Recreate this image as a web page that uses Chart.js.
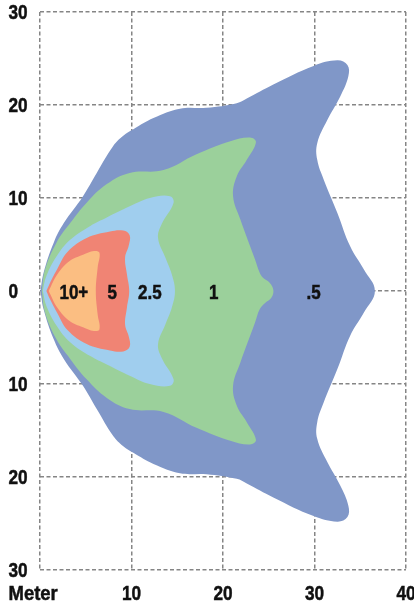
<!DOCTYPE html>
<html>
<head>
<meta charset="utf-8">
<script src="https://cdn.jsdelivr.net/npm/chart.js@4/dist/chart.umd.min.js"></script>
<style>
html,body{margin:0;padding:0;background:#fff;}
#wrap{width:414px;height:608px;position:relative;}
</style>
</head>
<body>
<div id="wrap"><canvas id="c" width="414" height="608"></canvas></div>
<script>
// ---- data (x = metres forward, y = metres sideways) ----
const xTicks = [0, 10, 20, 30, 40];
const xTickLabels = ['', '10', '20', '30', '40'];
const yTicks = [30, 20, 10, 0, -10, -20, -30];
const yTickLabels = ['30', '20', '10', '0', '10', '20', '30'];
const axisName = 'Meter';

const zoneNames = ['10+', '5', '2.5', '1', '.5'];
const zoneLabelX = [3.7, 7.9, 12.0, 19.0, 29.9];
const zoneLabelY = [-0.3, -0.3, -0.3, -0.3, -0.3];
const zoneColors = ['#fbbe82', '#f08474', '#a0ceee', '#9bd09b', '#8097c8'];

// zone ".5"
const blueX = [0.05, 0.4, 1.5, 2.6, 4.7, 6.2, 8.0, 9.1, 10.2, 12.4, 15.3, 18.2, 21.5, 22.6, 25.5, 29.9, 32.5, 33.6, 33.7, 32.8, 31.4, 30.3, 30.3, 31.0, 32.5, 33.9, 35.4, 36.6,
               35.4, 33.9, 32.5, 31.0, 30.3, 30.3, 31.4, 32.8, 33.7, 33.6, 32.5, 29.9, 25.5, 22.6, 21.5, 18.2, 15.3, 12.4, 10.2, 9.1, 8.0, 6.2, 4.7, 2.6, 1.5, 0.4, 0.05];
const blueY = [0, 2.0, 5.2, 7.3, 10.2, 12.7, 15.6, 16.7, 17.4, 18.6, 19.6, 19.7, 20.2, 20.7, 22.2, 24.2, 24.8, 24.3, 23.1, 20.9, 18.4, 15.9, 14.1, 12.0, 8.4, 4.8, 2.3, 0,
               -2.3, -4.8, -8.4, -12.0, -14.1, -15.9, -18.4, -20.9, -23.1, -24.3, -24.8, -24.2, -22.2, -20.7, -20.2, -19.7, -19.6, -18.6, -17.4, -16.7, -15.6, -12.7, -10.2, -7.3, -5.2, -2.0, 0];
// zone "1"
const greenX = [0.2, 0.55, 1.8, 3.3, 5.1, 7.3, 9.8, 13.5, 17.1, 20.8, 22.95, 23.6, 22.6, 21.5, 21.1, 21.9, 23.5, 24.0, 24.4, 25.1, 25.5,
                25.3, 24.6, 24.0, 23.5, 21.9, 21.1, 21.5, 22.6, 23.6, 22.95, 20.8, 17.1, 13.5, 9.8, 7.3, 5.1, 3.3, 1.8, 0.55, 0.2];
const greenY = [0, 2.3, 5.2, 7.3, 9.5, 11.5, 12.7, 13.0, 14.7, 16.1, 16.5, 16.0, 14.1, 12.3, 10.2, 7.7, 3.4, 2.0, 1.4, 0.9, 0.1,
                -0.7, -1.3, -2.0, -3.4, -7.7, -10.2, -12.3, -14.1, -16.0, -16.5, -16.1, -14.7, -13.0, -12.7, -11.5, -9.5, -7.3, -5.2, -2.3, 0];
// zone "2.5"
const lightX = [0.3, 0.7, 1.8, 3.3, 5.5, 7.3, 9.8, 12.0, 14.2, 14.6, 13.3, 12.9, 13.7, 14.4, 14.75,
                14.4, 13.7, 12.9, 13.3, 14.6, 14.2, 12.0, 9.8, 7.3, 5.5, 3.3, 1.8, 0.7, 0.3];
const lightY = [0, 1.6, 3.7, 5.5, 7.0, 7.9, 9.1, 10.0, 10.2, 9.5, 7.2, 5.7, 3.6, 1.8, 0,
                -1.8, -3.6, -5.7, -7.2, -9.5, -10.2, -10.0, -9.1, -7.9, -7.0, -5.5, -3.7, -1.6, 0];
// zone "5"
const redX = [0.7, 1.1, 1.9, 3.0, 5.1, 7.65, 9.1, 9.8, 9.7, 9.3, 9.5, 9.75,
              9.5, 9.3, 9.7, 9.8, 9.1, 7.65, 5.1, 3.0, 1.9, 1.1, 0.7];
const redY = [0, 0.9, 2.4, 4.2, 5.7, 6.4, 6.5, 6.0, 4.9, 3.6, 1.8, 0,
              -1.8, -3.6, -4.9, -6.0, -6.5, -6.4, -5.7, -4.2, -2.4, -0.9, 0];
// zone "10+"
const orangeX = [0.95, 1.9, 3.2, 4.7, 5.9, 6.5, 6.3, 6.1,
                 6.3, 6.5, 5.9, 4.7, 3.2, 1.9, 0.95];
const orangeY = [0, 1.8, 3.2, 3.9, 4.3, 4.1, 2.5, 0,
                 -2.5, -4.1, -4.3, -3.9, -3.2, -1.8, 0];

// ---- build ----
const FONT = "'Liberation Sans', Arial, sans-serif";
function pts(xs, ys) { return xs.map((x, i) => ({x: x, y: ys[i]})); }
const shapes = [
  pts(orangeX, orangeY),
  pts(redX, redY),
  pts(lightX, lightY),
  pts(greenX, greenY),
  pts(blueX, blueY)
];

// bold text squeezed horizontally, lightly stroked, to mimic a heavy narrow face
function narrowText(ctx, text, x, y, align, squeeze) {
  ctx.save();
  ctx.translate(x, y);
  ctx.scale(squeeze, 1);
  ctx.textAlign = align;
  ctx.fillText(text, 0, 0);
  ctx.strokeText(text, 0, 0);
  ctx.restore();
}

const textPlugin = {
  id: 'textPlugin',
  afterDatasetsDraw(chart) {
    const ctx = chart.ctx, xs = chart.scales.x, ys = chart.scales.y;
    ctx.save();
    ctx.font = 'bold 20px ' + FONT;
    ctx.fillStyle = '#111';
    ctx.strokeStyle = '#111';
    ctx.lineWidth = 0.5;
    ctx.textBaseline = 'middle';
    zoneNames.forEach((n, i) => {
      narrowText(ctx, n, xs.getPixelForValue(zoneLabelX[i]), ys.getPixelForValue(zoneLabelY[i]), 'center', 0.85);
    });
    ctx.restore();
  },
  afterDraw(chart) {
    const ctx = chart.ctx, xs = chart.scales.x, ys = chart.scales.y;
    ctx.save();
    ctx.font = 'bold 21px ' + FONT;
    ctx.fillStyle = '#111';
    ctx.strokeStyle = '#111';
    ctx.lineWidth = 0.5;
    ctx.textBaseline = 'middle';
    const labelY = xs.top + 24;
    xTicks.forEach((v, i) => {
      if (xTickLabels[i]) narrowText(ctx, xTickLabels[i], xs.getPixelForValue(v), labelY, 'center', 0.82);
    });
    yTicks.forEach((v, i) => {
      narrowText(ctx, yTickLabels[i], 8.5, ys.getPixelForValue(v) + 1, 'left', 0.82);
    });
    narrowText(ctx, axisName, 8.5, labelY, 'left', 0.88);
    ctx.restore();
  }
};

new Chart(document.getElementById('c'), {
  type: 'scatter',
  data: {
    datasets: shapes.map((d, i) => ({
      label: zoneNames[i],
      data: d,
      showLine: true,
      fill: 'shape',
      backgroundColor: zoneColors[i],
      borderColor: zoneColors[i],
      borderWidth: 0,
      pointRadius: 0,
      tension: 0.4
    }))
  },
  options: {
    responsive: false,
    animation: false,
    layout: {padding: {left: 8, right: 8, top: 12, bottom: 0}},
    plugins: {legend: {display: false}, tooltip: {enabled: false}},
    scales: {
      x: {
        type: 'linear', min: 0, max: 40,
        afterBuildTicks: s => { s.ticks = xTicks.map(v => ({value: v})); },
        afterFit: s => { s.height = 38; },
        ticks: {display: false},
        grid: {color: '#858585', lineWidth: 1.5, drawTicks: false},
        border: {display: false, dash: [4, 2.5]}
      },
      y: {
        type: 'linear', min: -30, max: 30,
        afterBuildTicks: s => { s.ticks = yTicks.map(v => ({value: v})); },
        afterFit: s => { s.width = 32; },
        ticks: {display: false},
        grid: {color: '#858585', lineWidth: 1.5, drawTicks: false},
        border: {display: false, dash: [4, 2.5]}
      }
    }
  },
  plugins: [textPlugin]
});
</script>
</body>
</html>
